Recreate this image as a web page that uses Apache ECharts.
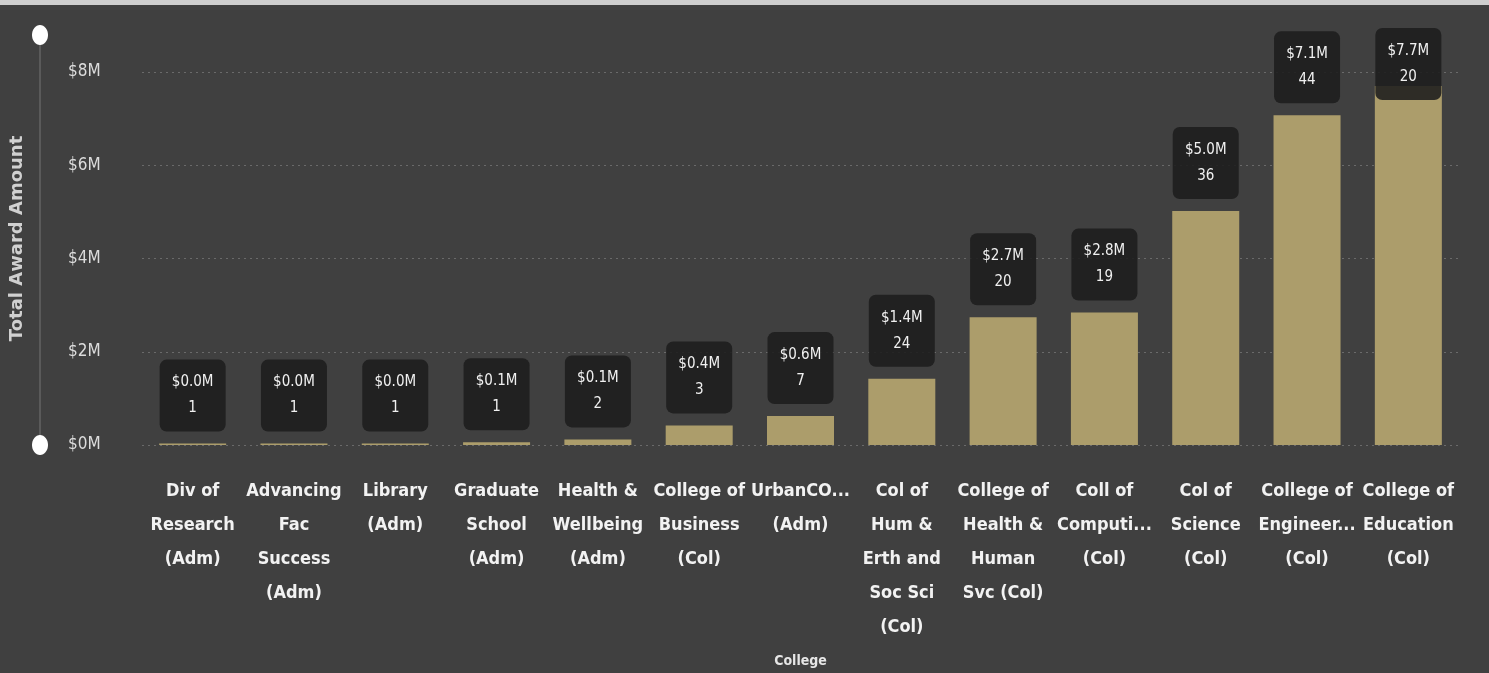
<!DOCTYPE html>
<html>
<head>
<meta charset="utf-8">
<script src="https://cdn.jsdelivr.net/npm/echarts@6/dist/echarts.min.js"></script>
<style>
  html, body { margin: 0; padding: 0; background: #404040; }
  #chart { width: 1489px; height: 673px; }
</style>
</head>
<body>
<div id="chart"></div>
<script>
// categories as shown on the axis (Power BI wraps / truncates them)
const categories = [
  'Div of\nResearch\n(Adm)',
  'Advancing\nFac\nSuccess\n(Adm)',
  'Library\n(Adm)',
  'Graduate\nSchool\n(Adm)',
  'Health &\nWellbeing\n(Adm)',
  'College of\nBusiness\n(Col)',
  'UrbanCO...\n(Adm)',
  'Col of\nHum &\nErth and\nSoc Sci\n(Col)',
  'College of\nHealth &\nHuman\nSvc (Col)',
  'Coll of\nComputi...\n(Col)',
  'Col of\nScience\n(Col)',
  'College of\nEngineer...\n(Col)',
  'College of\nEducation\n(Col)'
]
// total award amount, $M
const awardAmounts = [0.03, 0.03, 0.03, 0.06, 0.12, 0.42, 0.62, 1.42, 2.74, 2.84, 5.02, 7.07, 7.7]
// number of awards
const awardCounts = [1, 1, 1, 1, 2, 3, 7, 24, 20, 19, 36, 44, 20]
const yTicks = [0, 2, 4, 6, 8]

const FONT = "'Liberation Sans Narrow', 'DejaVu Sans Condensed', 'Roboto', sans-serif"
const BAR_COLOR = '#ac9d6b'

const chart = echarts.init(document.getElementById('chart'))

const barData = awardAmounts.map((v, i) => {
  const item = { value: v }
  // last label is pushed down onto the bar (no room above)
  if (i === awardAmounts.length - 1) item.label = { offset: [0, 26] }
  return item
})

chart.setOption({
  backgroundColor: '#404040',
  animation: false,
  grid: { left: 140, right: 30, top: 72, bottom: 228 },
  xAxis: {
    type: 'category',
    data: categories,
    name: 'College',
    nameLocation: 'middle',
    nameGap: 209,
    nameTextStyle: { color: '#e6e6e6', fontSize: 14, fontWeight: 'bold', fontFamily: FONT },
    axisLine: { show: false },
    axisTick: { show: false },
    axisLabel: {
      interval: 0,
      margin: 29,
      color: '#f2f2f2',
      fontSize: 18,
      fontWeight: 'bold',
      lineHeight: 34,
      fontFamily: FONT
    }
  },
  yAxis: {
    type: 'value',
    min: yTicks[0],
    max: yTicks[yTicks.length - 1],
    interval: 2,
    name: 'Total Award Amount',
    nameLocation: 'middle',
    nameGap: 116,
    nameTextStyle: {
      color: '#d0d0d0',
      fontSize: 18,
      fontWeight: 'bold',
      fontFamily: "'DejaVu Sans', sans-serif",
      padding: [0, 0, 0, 40]
    },
    axisLine: { show: false },
    axisTick: { show: false },
    axisLabel: {
      align: 'left',
      margin: 74,
      color: '#dcdcdc',
      fontSize: 17,
      fontFamily: FONT,
      formatter: v => '$' + v + 'M'
    },
    splitLine: { lineStyle: { color: '#6a6a6a', type: [2, 4], width: 1 } }
  },
  series: [
    {
      type: 'bar',
      data: barData,
      barWidth: 67,
      itemStyle: { color: BAR_COLOR },
      label: {
        show: true,
        position: 'top',
        distance: 12,
        formatter: p => '$' + p.value.toFixed(1) + 'M\n' + awardCounts[p.dataIndex],
        color: '#f0f0f0',
        fontSize: 15,
        lineHeight: 26,
        fontFamily: FONT,
        backgroundColor: 'rgba(28,28,28,0.88)',
        borderRadius: 7,
        padding: [10, 8],
        width: 50,
        align: 'center'
      }
    }
  ],
  // top light strip + the Power BI zoom slider on the left
  graphic: [
    { type: 'rect', shape: { x: 0, y: 0, width: 1489, height: 5 }, style: { fill: '#cfcfcf' } },
    { type: 'line', shape: { x1: 40, y1: 35, x2: 40, y2: 445 }, style: { stroke: '#5a5a5a', lineWidth: 2 } },
    { type: 'ellipse', shape: { cx: 40, cy: 35, rx: 8, ry: 10 }, style: { fill: '#ffffff' } },
    { type: 'ellipse', shape: { cx: 40, cy: 445, rx: 8, ry: 10 }, style: { fill: '#ffffff' } }
  ]
})
</script>
</body>
</html>
